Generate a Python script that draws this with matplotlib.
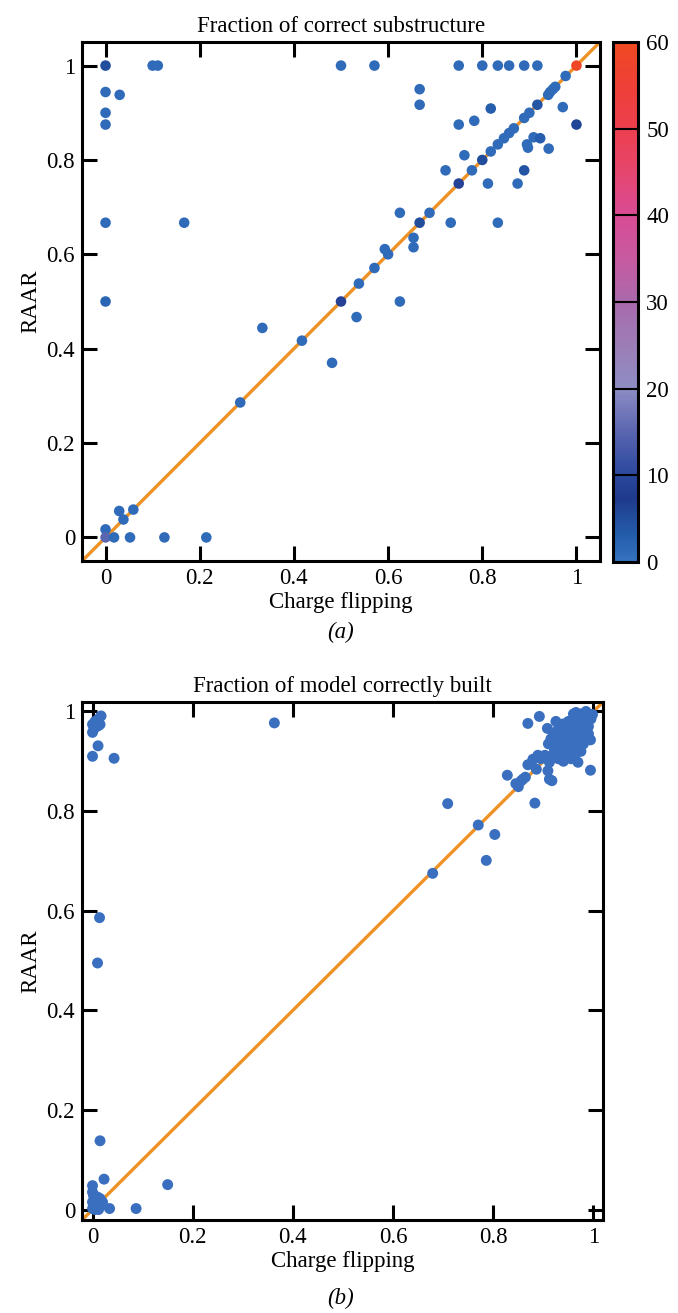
import numpy as np
import matplotlib
matplotlib.use("Agg")
import matplotlib.pyplot as plt
from matplotlib.colors import LinearSegmentedColormap

plt.rcParams['font.family'] = ['Liberation Serif', 'DejaVu Serif']

# ---------------- Panel (a) data ----------------
cf_a = [0, 0.1, 0.111, 0.5, 0.571, 0.75, 0.8, 0.833, 0.857, 0.889, 0.917, 1.0,
        0, 0.03, 0, 0, 0, 0.167, 0, 0.667, 0.667, 0.977, 0.94, 0.944, 0.95, 0.955,
        0.971, 1.0, 0.917, 0.9, 0.889, 0.818, 0.783, 0.75, 0.867, 0.857, 0.846,
        0.833, 0.818, 0.8, 0.778, 0.75, 0.909, 0.923, 0.895, 0.897, 0.941, 0.762,
        0.722, 0.889, 0.812, 0.875, 0.625, 0.688, 0.667, 0.733, 0.833, 0.654,
        0.654, 0.593, 0.6, 0.571, 0.538, 0.5, 0.533, 0.625, 0.481, 0.417, 0.333,
        0.286, 0.029, 0.059, 0.038, 0, 0, 0.018, 0.052, 0.125, 0.214]
raar_a = [1, 1, 1, 1, 1, 1, 1, 1, 1, 1, 1, 1,
          0.944, 0.938, 0.9, 0.875, 0.667, 0.667, 0.5, 0.95, 0.917, 0.978, 0.938,
          0.944, 0.95, 0.955, 0.912, 0.875, 0.917, 0.9, 0.889, 0.909, 0.883, 0.875,
          0.867, 0.857, 0.846, 0.833, 0.818, 0.8, 0.778, 0.75, 0.848, 0.846, 0.833,
          0.826, 0.824, 0.81, 0.778, 0.778, 0.75, 0.75, 0.688, 0.688, 0.667, 0.667,
          0.667, 0.635, 0.615, 0.611, 0.6, 0.571, 0.538, 0.5, 0.467, 0.5, 0.37,
          0.417, 0.444, 0.286, 0.056, 0.059, 0.038, 0.017, 0, 0, 0, 0, 0]
count_a = [5, 1, 1, 1, 1, 1, 1, 1, 1, 1, 1, 59,
           1, 1, 1, 1, 1, 1, 2, 1, 1, 1, 1, 1, 1, 1,
           1, 6, 4, 1, 1, 3, 1, 1, 1, 1, 1,
           1, 1, 5, 1, 9, 1, 3, 1, 1, 1, 1,
           1, 4, 1, 1, 1, 1, 5, 1, 1, 1,
           1, 1, 1, 1, 1, 9, 1, 1, 1, 1, 1,
           1, 1, 1, 1, 1, 15, 1, 1, 1, 1]

# ---------------- Panel (b) data ----------------
cf_b = [0.017, 0.012, 0.005, 0.0, 0.011, 0.015, 0.0, 0.003, 0.011, 0.0, 0.043,
        0.014, 0.01, 0.015, 0.023, 0.0, 0.0, 0.002, 0.005, 0.01, 0.015, 0.0,
        0.003, 0.008, 0.0, 0.012, 0.018, 0.005, 0.02, 0.034, 0.087, 0.15,
        0.363, 0.679, 0.709, 0.77, 0.803, 0.786, 0.883,
        0.869, 0.892, 0.828, 0.85, 0.859, 0.864, 0.869, 0.879, 0.889, 0.886,
        0.909, 0.912, 0.917, 0.908, 0.965, 0.969, 0.994, 0.994, 0.965, 0.985,
        0.998, 0.922, 0.925, 0.845, 0.856, 0.876, 0.895, 0.912, 0.916, 0.903,
        0.919, 0.925, 0.93, 0.935, 0.94, 0.945, 0.95, 0.955, 0.96, 0.965, 0.97,
        0.975, 0.98, 0.99, 0.995, 0.985, 0.975, 0.965, 0.955, 0.945, 0.935,
        0.925, 0.93, 0.94, 0.95, 0.96, 0.97, 0.98, 0.99, 0.985, 0.975, 0.96,
        0.95, 0.94, 0.935, 0.945, 0.955, 0.965, 0.975, 0.95, 0.94, 0.96, 0.93,
        0.92, 0.99, 0.98, 0.97, 0.955, 0.94, 0.93, 0.915, 0.91, 0.925, 0.975]
raar_b = [0.991, 0.985, 0.98, 0.974, 0.971, 0.974, 0.958, 0.965, 0.931, 0.91, 0.906,
          0.586, 0.495, 0.138, 0.061, 0.048, 0.035, 0.028, 0.02, 0.025, 0.022, 0.015,
          0.01, 0.005, 0.002, 0.0, 0.008, 0.0, 0.015, 0.002, 0.002, 0.05,
          0.977, 0.675, 0.815, 0.772, 0.753, 0.701, 0.816,
          0.976, 0.99, 0.872, 0.849, 0.864, 0.868, 0.893, 0.904, 0.912, 0.884,
          0.881, 0.864, 0.861, 0.966, 0.916, 0.898, 0.882, 0.943, 0.998, 1.0,
          0.994, 0.924, 0.914, 0.855, 0.861, 0.895, 0.905, 0.898, 0.911, 0.912,
          0.934, 0.94, 0.948, 0.955, 0.96, 0.965, 0.97, 0.975, 0.98, 0.985, 0.99,
          0.995, 0.99, 0.995, 0.985, 0.975, 0.97, 0.96, 0.95, 0.94, 0.93,
          0.925, 0.935, 0.925, 0.935, 0.945, 0.955, 0.96, 0.97, 0.985, 0.98, 0.965,
          0.955, 0.945, 0.915, 0.92, 0.93, 0.94, 0.945, 0.98, 0.975, 0.995, 0.965,
          0.955, 0.955, 0.935, 0.925, 0.905, 0.9, 0.905, 0.945, 0.935, 0.98, 0.92]

ticks = [0, 0.2, 0.4, 0.6, 0.8, 1.0]
tick_labels = ['0', '0.2', '0.4', '0.6', '0.8', '1']
cbar_ticks = [0, 10, 20, 30, 40, 50, 60]

cmap = LinearSegmentedColormap.from_list('cnt', [
    (0.0, '#3572c0'), (0.05, '#245dab'), (0.12, '#1f3a8c'), (0.165, '#2a479d'),
    (0.25, '#5a66b0'), (0.333, '#8e8cc4'), (0.42, '#9d7db6'), (0.5, '#a86aac'),
    (0.583, '#c75aa0'), (0.667, '#d84c95'), (0.75, '#e5466f'), (0.833, '#ec3f4e'),
    (0.917, '#ef3f38'), (1.0, '#f04a22')])

W, H = 678, 1313
fig = plt.figure(figsize=(W / 100, H / 100), dpi=100)

FS = 16.5
LINE_C = '#ee9226'
PT_C = '#3a6fbf'


def style(ax, lim):
    ax.set_xlim(lim)
    ax.set_ylim(lim)
    ax.set_xticks(ticks)
    ax.set_yticks(ticks)
    ax.set_xticklabels(tick_labels)
    ax.set_yticklabels(tick_labels)
    ax.tick_params(direction='in', length=11, width=2.2, top=True, right=True,
                   labelsize=FS, pad=5, color='black')
    for s in ax.spines.values():
        s.set_linewidth(2.2)
    ax.set_xlabel('Charge flipping', fontsize=FS, labelpad=2)
    ax.set_ylabel('RAAR', fontsize=FS, labelpad=4)


# Panel (a)
ax1 = fig.add_axes([82 / W, 1 - 561 / H, 518 / W, 519 / H])
lim_a = (-0.05, 1.05)
ax1.plot(lim_a, lim_a, color=LINE_C, lw=2.4, zorder=1)
sc = ax1.scatter(cf_a, raar_a, c=count_a, cmap=cmap, vmin=0, vmax=60, s=58,
                 edgecolors='none', zorder=2)
style(ax1, lim_a)
ax1.set_title('Fraction of correct substructure', fontsize=FS, pad=7)
fig.text(341 / W, 1 - 632 / H, '(a)', ha='center', va='center', fontsize=FS,
         style='italic')

cax = fig.add_axes([613 / W, 1 - 562 / H, 25 / W, 520 / H])
cb = fig.colorbar(sc, cax=cax, ticks=cbar_ticks)
cb.outline.set_linewidth(2.2)
cax.tick_params(length=0, labelsize=FS, pad=6)
for v in [10, 20, 30, 40, 50]:
    cax.axhline(v, color='black', lw=1.5)

# Panel (b)
ax2 = fig.add_axes([82 / W, 1 - 1220 / H, 521 / W, 518 / H])
lim_b = (-0.021, 1.019)
ax2.plot(lim_b, lim_b, color=LINE_C, lw=2.4, zorder=1)
ax2.scatter(cf_b, raar_b, color=PT_C, s=62, edgecolors='none', zorder=2)
style(ax2, lim_b)
ax2.set_title('Fraction of model correctly built', fontsize=FS, pad=7)
fig.text(341 / W, 1 - 1298 / H, '(b)', ha='center', va='center', fontsize=FS,
         style='italic')

fig.savefig('out.png', dpi=100)
